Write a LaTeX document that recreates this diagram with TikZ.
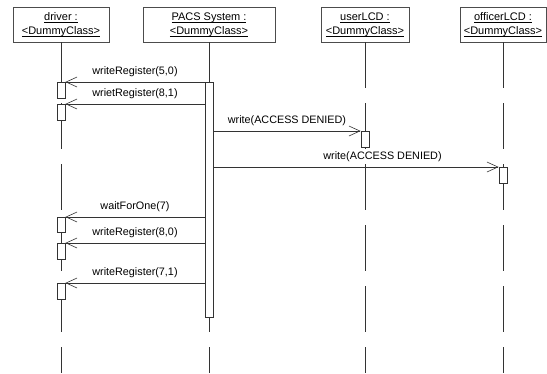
\documentclass[tikz,border=0pt]{standalone}
\usepackage{fontspec}
\setmainfont{Liberation Sans}
\usetikzlibrary{arrows.meta}
% underline at a fixed depth, so descenders do not push it down
\newsavebox\ulsave
\newcommand\ulbox[1]{\sbox\ulsave{#1}\rlap{\rule[-2pt]{\wd\ulsave}{0.6pt}}\usebox\ulsave}
\begin{document}
\begin{tikzpicture}[x=1pt,y=-1pt,
  obj/.style={draw=black!70, fill=white, line width=0.6pt, minimum height=35pt,
    inner sep=0pt, align=center, font=\fontsize{11}{14}\selectfont},
  life/.style={draw=black!80, line width=0.7pt, dash pattern=on 46pt off 15pt},
  act/.style={draw=black!80, fill=white, line width=0.7pt, minimum width=8pt,
    inner sep=0pt, anchor=north},
  msg/.style={draw=black!80, line width=0.7pt,
    -{Straight Barb[length=11pt,width=10pt,line width=0.6pt]}},
  lbl/.style={font=\fontsize{10.8}{12}\selectfont, inner sep=1pt, above=3.5pt}]
\useasboundingbox (0,0) rectangle (547,373);

% object heads
\node[obj, minimum width=96pt] (drv) at (61,24.5) {\ulbox{driver :}\\\ulbox{<DummyClass>}};
\node[obj, minimum width=132pt] (pacs) at (209,24.5) {\ulbox{PACS System :}\\\ulbox{<DummyClass>}};
\node[obj, minimum width=88pt] (ulcd) at (365,24.5) {\ulbox{userLCD :}\\\ulbox{<DummyClass>}};
\node[obj, minimum width=86pt] (olcd) at (503,24.5) {\ulbox{officerLCD :}\\\ulbox{<DummyClass>}};

% lifelines
\coordinate (bot) at (0,373);
\draw[life] (drv.south) -- (drv.south |- bot);
\draw[life] (pacs.south) -- (pacs.south |- bot);
\draw[life] (ulcd.south) -- (ulcd.south |- bot);
\draw[life] (olcd.south) -- (olcd.south |- bot);

% activation bars
\node[act, minimum height=235pt] (pa) at (209,82) {};
\node[act, minimum height=16pt] (d1) at (61,82) {};
\node[act, minimum height=16pt] (d2) at (61,104) {};
\node[act, minimum height=15pt] (d3) at (61,217) {};
\node[act, minimum height=16pt] (d4) at (61,243) {};
\node[act, minimum height=16pt] (d5) at (61,283) {};
\node[act, minimum height=16pt] (u1) at (365,131) {};
\node[act, minimum height=16pt] (o1) at (503,167) {};

% messages
\draw[msg] (pa.west |- d1.north) -- (d1.north east) node[lbl, midway] (m1) {writeRegister(5,0)};
\draw[msg] (pa.west |- d2.north) -- (d2.north east) node[lbl, midway] (m2) {wrietRegister(8,1)};
\draw[msg] (pa.east |- u1.north) -- (u1.north west) node[lbl, midway] (m3) {write(ACCESS DENIED)};
\draw[msg] (pa.east |- o1.north) -- (o1.north west) node[lbl, pos=0.593] (m4) {write(ACCESS DENIED)};
\draw[msg] (pa.west |- d3.north) -- (d3.north east) node[lbl, midway] (m5) {waitForOne(7)};
\draw[msg] (pa.west |- d4.north) -- (d4.north east) node[lbl, midway] (m6) {writeRegister(8,0)};
\draw[msg] (pa.west |- d5.north) -- (d5.north east) node[lbl, midway] (m7) {writeRegister(7,1)};
\end{tikzpicture}
\end{document}
